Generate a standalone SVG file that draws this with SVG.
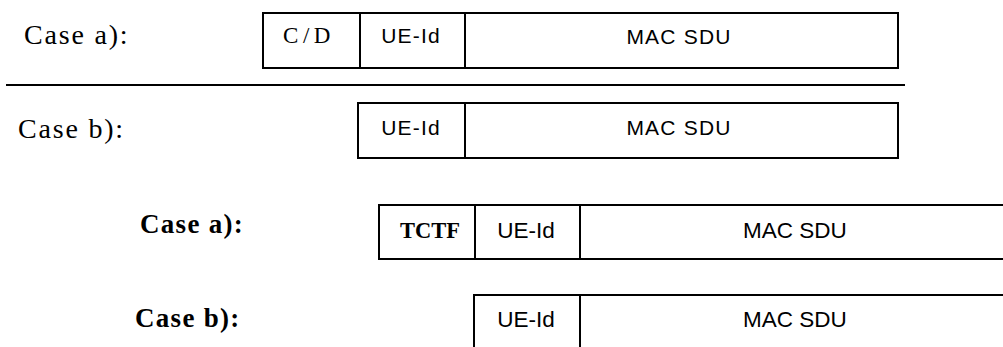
<svg xmlns="http://www.w3.org/2000/svg" width="1003" height="347" viewBox="0 0 1003 347">
<style>
.box{fill:#fff;stroke:#000;stroke-width:2}
.div{stroke:#000;stroke-width:2}
.lbl{font-family:"Liberation Serif",serif;font-size:28px;letter-spacing:1.8px;fill:#000}
.lblb{font-family:"Liberation Serif",serif;font-weight:bold;font-size:27px;letter-spacing:1.3px;fill:#000}
.sn{font-family:"Liberation Sans",Arial,sans-serif;font-size:21px;letter-spacing:1.2px;fill:#000;text-anchor:middle}
.sn2{font-family:"Liberation Sans",Arial,sans-serif;font-size:22.5px;fill:#000;text-anchor:middle}
.sf{font-family:"Liberation Serif",serif;font-size:23px;letter-spacing:4.5px;fill:#000;text-anchor:middle}
.sfb{font-family:"Liberation Serif",serif;font-weight:bold;font-size:22.5px;fill:#000;text-anchor:middle}
</style>
<rect width="1003" height="347" fill="#fff"/>
<g id="label-top-a"><text class="lbl" x="24" y="44">Case a):</text></g>
<g id="label-top-b"><text class="lbl" x="18" y="138">Case b):</text></g>
<g id="label-bot-a"><text class="lblb" x="140" y="233">Case a):</text></g>
<g id="label-bot-b"><text class="lblb" x="135" y="327">Case b):</text></g>
<g id="separator"><line class="div" x1="6" y1="85" x2="905" y2="85"/></g>
<g id="pdu-top-a">
<rect class="box" x="263" y="13" width="635" height="55"/>
<line class="div" x1="360" y1="13" x2="360" y2="68"/>
<line class="div" x1="465" y1="13" x2="465" y2="68"/>
<text class="sf" x="309" y="43">C/D</text>
<text class="sn" x="411" y="43">UE-Id</text>
<text class="sn" x="679" y="44">MAC SDU</text>
</g>
<g id="pdu-top-b">
<rect class="box" x="358" y="103" width="540" height="55"/>
<line class="div" x1="465" y1="103" x2="465" y2="158"/>
<text class="sn" x="411" y="135">UE-Id</text>
<text class="sn" x="679" y="135">MAC SDU</text>
</g>
<g id="pdu-bot-a">
<rect class="box" x="379" y="205" width="640" height="54"/>
<line class="div" x1="475" y1="205" x2="475" y2="259"/>
<line class="div" x1="580" y1="205" x2="580" y2="259"/>
<text class="sfb" x="430" y="238">TCTF</text>
<text class="sn2" x="526" y="238">UE-Id</text>
<text class="sn2" x="795" y="238">MAC SDU</text>
</g>
<g id="pdu-bot-b">
<rect class="box" x="474" y="295" width="545" height="70"/>
<line class="div" x1="580" y1="295" x2="580" y2="360"/>
<text class="sn2" x="526" y="327">UE-Id</text>
<text class="sn2" x="795" y="327">MAC SDU</text>
</g>
<g id="connectors"></g>
</svg>
